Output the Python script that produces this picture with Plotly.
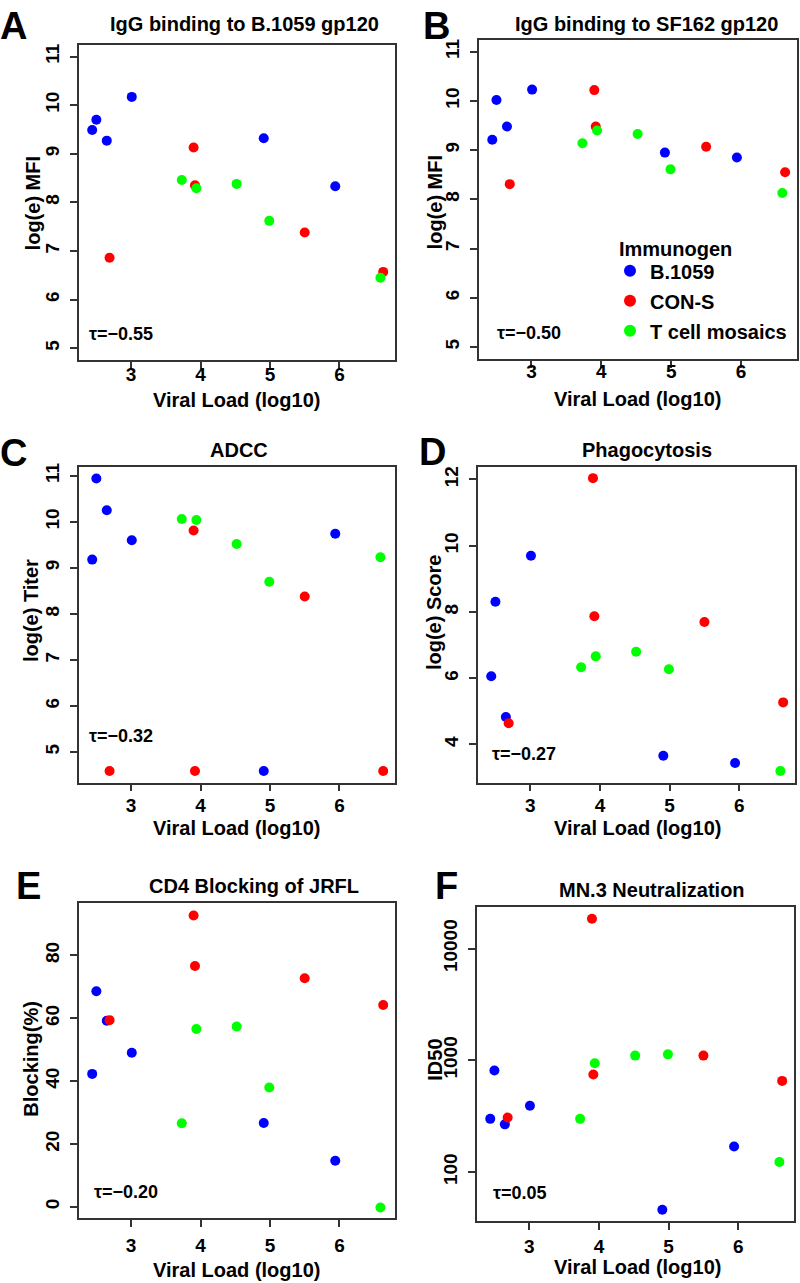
import plotly.graph_objects as go

W, H = 800, 1283

groups = ["B.1059", "CON-S", "T cell mosaics"]
colors = {"B.1059": "#0000FF", "CON-S": "#FF0000", "T cell mosaics": "#00FF00"}

# Viral load (log10) per animal, by immunogen group
vl_blue = [2.44, 2.50, 2.65, 3.01, 4.91, 5.94]
vl_red = [2.69, 3.90, 3.92, 5.50, 6.63]
vl_green = [3.73, 3.94, 4.52, 4.99, 6.59]

# Panel A: IgG binding to B.1059 gp120, log(e) MFI
a_blue = [9.49, 9.70, 9.27, 10.17, 9.32, 8.33]
a_red = [6.86, 9.13, 8.35, 7.38, 6.57]
a_green = [8.46, 8.29, 8.38, 7.62, 6.45]

# Panel B: IgG binding to SF162 gp120, log(e) MFI
b_blue = [9.21, 10.02, 9.48, 10.23, 8.95, 8.85]
b_red = [8.31, 10.22, 9.48, 9.07, 8.55]
b_green = [9.14, 9.40, 9.33, 8.61, 8.13]

# Panel C: ADCC, log(e) Titer
c_blue = [9.18, 10.94, 10.25, 9.60, 4.59, 9.74]
c_red = [4.59, 9.81, 4.59, 8.38, 4.59]
c_green = [10.06, 10.04, 9.52, 8.70, 9.23]

# Panel D: Phagocytosis, log(e) Score
d_blue = [6.06, 8.31, 4.83, 9.70, 3.66, 3.44]
d_red = [4.64, 12.04, 7.87, 7.70, 5.27]
d_green = [6.33, 6.66, 6.80, 6.27, 3.20]

# Panel E: CD4 Blocking of JRFL, Blocking(%)
e_blue = [42.3, 68.6, 59.2, 49.0, 26.7, 14.7]
e_red = [59.4, 92.7, 76.6, 72.7, 64.2]
e_green = [26.6, 56.6, 57.4, 38.0, -0.2]

# Panel F: MN.3 Neutralization, ID50
f_blue = [299, 809, 267, 392, 46, 169]
f_red = [307, 18500, 745, 1101, 654]
f_green = [299, 940, 1101, 1130, 123]

titles = ["IgG binding to B.1059 gp120", "IgG binding to SF162 gp120", "ADCC",
          "Phagocytosis", "CD4 Blocking of JRFL", "MN.3 Neutralization"]
ytitles = ["log(e) MFI", "log(e) MFI", "log(e) Titer", "log(e) Score", "Blocking(%)", "ID50"]
xtitle = "Viral Load (log10)"
letters = ["A", "B", "C", "D", "E", "F"]
taus = ["τ=−0.55", "τ=−0.50", "τ=−0.32", "τ=−0.27", "τ=−0.20", "τ=0.05"]
x_ticks = [3, 4, 5, 6]
f_ticks = [100, 1000, 10000]
f_ticklabels = ["100", "1000", "10000"]

panel_data = [
    (a_blue, a_red, a_green),
    (b_blue, b_red, b_green),
    (c_blue, c_red, c_green),
    (d_blue, d_red, d_green),
    (e_blue, e_red, e_green),
    (f_blue, f_red, f_green),
]

# layout geometry (pixels)
boxes = [  # (left, right, top, bottom)
    (79, 395, 41, 357),
    (479, 797, 36, 356),
    (79, 395, 464, 781),
    (478, 795, 464, 781),
    (79, 395, 902, 1218),
    (477, 794, 906, 1221),
]
yranges = [[4.76, 11.24], [4.76, 11.24], [4.34, 11.2], [2.85, 12.39], [-3.6, 96.6], [1.56, 4.37]]
yticks = [[5, 6, 7, 8, 9, 10, 11], [5, 6, 7, 8, 9, 10, 11], [5, 6, 7, 8, 9, 10, 11],
          [4, 6, 8, 10, 12], [0, 20, 40, 60, 80], f_ticks]
xlab_standoff = [-10, -12, -2, -2, 2, 0]
title_pos = [(244, 20), (646, 20), (239, 447), (647, 447), (254, 885), (652, 889)]
tau_pos = [(88, 331), (496, 330), (88, 734), (491, 752), (93, 1192), (492, 1193)]
xtitle_pos = [(236, 397), (637, 396), (236, 827), (637, 827), (236, 1270), (637, 1267)]
ytitle_pos = [(33, 200), (435, 199), (31, 609), (434, 610), (31, 1058), (435, 1059)]
# panel letters: (x center, y, y anchor)
letter_pos = [(13, 0, "top"), (436, 0, "top"), (13, 450, "middle"), (432, 449, "middle"),
              (28, 885, "middle"), (446, 885, "middle")]

FONT = "Liberation Sans, Arial, Helvetica, sans-serif"
LINE = "#333333"

fig = go.Figure()
annotations = []


def add_text(text, px, py, size, xanchor="center", angle=0, yanchor="middle"):
    annotations.append(dict(text=text, x=px / W, y=1 - py / H, xref="paper", yref="paper",
                            xanchor=xanchor, yanchor=yanchor, showarrow=False, textangle=angle,
                            borderpad=0,
                            font=dict(family=FONT, size=size, color="black", weight="bold")))


for i, (blue, red, green) in enumerate(panel_data):
    n = i + 1
    xa = "x" if n == 1 else f"x{n}"
    ya = "y" if n == 1 else f"y{n}"
    for name, xs, ys in [("B.1059", vl_blue, blue), ("CON-S", vl_red, red),
                         ("T cell mosaics", vl_green, green)]:
        fig.add_trace(go.Scatter(
            x=xs, y=ys, mode="markers", name=name, legendgroup=name,
            showlegend=(n == 2),
            marker=dict(color=colors[name], size=10, line=dict(width=0)),
            xaxis=xa, yaxis=ya))
    l, r, t, b = boxes[i]
    axis_common = dict(showline=True, mirror=True, linecolor=LINE, linewidth=1.5,
                       ticks="outside", ticklen=7, tickwidth=1.5, tickcolor=LINE,
                       showgrid=False, zeroline=False,
                       tickfont=dict(family=FONT, size=19, color="black", weight="bold"))
    xkey = "xaxis" if n == 1 else f"xaxis{n}"
    ykey = "yaxis" if n == 1 else f"yaxis{n}"
    ydict = dict(domain=[1 - b / H, 1 - t / H], anchor=xa, range=yranges[i],
                 type="log" if n == 6 else "linear",
                 tickvals=yticks[i], tickangle=-90, ticklabelstandoff=4,
                 **axis_common)
    if n == 6:
        ydict["ticktext"] = f_ticklabels
    fig.update_layout(**{
        xkey: dict(domain=[l / W, r / W], anchor=ya, range=[2.25, 6.80],
                   tickvals=x_ticks, ticklabelstandoff=xlab_standoff[i],
                   **axis_common),
        ykey: ydict,
    })
    add_text(titles[i], *title_pos[i], 20)
    lx, ly, lanchor = letter_pos[i]
    add_text(letters[i], lx, ly, 38, yanchor=lanchor)
    add_text(taus[i], *tau_pos[i], 18, xanchor="left")
    add_text(xtitle, *xtitle_pos[i], 20)
    add_text(ytitles[i], *ytitle_pos[i], 20, angle=-90)

# legend heading
add_text("Immunogen", 618, 246, 20, xanchor="left")

fig.update_layout(
    width=W, height=H,
    margin=dict(l=0, r=0, t=0, b=0),
    paper_bgcolor="white", plot_bgcolor="white",
    annotations=annotations,
    legend=dict(font=dict(family=FONT, size=20, color="black", weight="bold"),
                x=610 / W, y=1 - 248 / H, xanchor="left", yanchor="top",
                bgcolor="rgba(0,0,0,0)", tracegroupgap=1, itemsizing="constant"),
)

fig.write_html("out.html", config={"displayModeBar": False},
               post_script="document.body.style.margin='0';document.body.style.padding='0';")
